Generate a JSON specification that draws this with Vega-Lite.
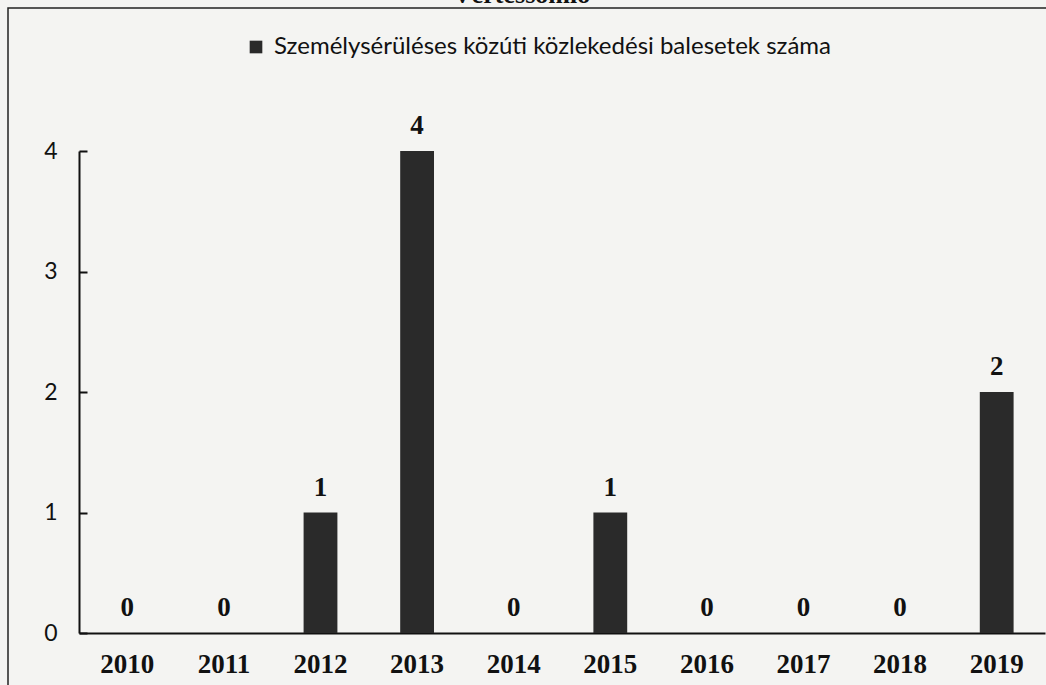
{
  "$schema": "https://vega.github.io/schema/vega-lite/v6.json",
  "width": 1048,
  "height": 697,
  "autosize": {"type": "none"},
  "padding": {"left": 8, "top": 8, "right": -10, "bottom": -20},
  "background": "#f4f4f2",
  "title": {"text": "Vértessomló", "font": "Liberation Serif", "fontSize": 26, "fontWeight": "bold", "color": "#111", "offset": 0, "dy": 21, "anchor": "start", "dx": 445, "baseline": "alphabetic"},
  "config": {"view": {"stroke": "#222", "strokeWidth": 1.5}},
  "data": {"values": [
    {"year": "2010", "value": 0, "series": "Személysérüléses közúti közlekedési balesetek száma"},
    {"year": "2011", "value": 0, "series": "Személysérüléses közúti közlekedési balesetek száma"},
    {"year": "2012", "value": 1, "series": "Személysérüléses közúti közlekedési balesetek száma"},
    {"year": "2013", "value": 4, "series": "Személysérüléses közúti közlekedési balesetek száma"},
    {"year": "2014", "value": 0, "series": "Személysérüléses közúti közlekedési balesetek száma"},
    {"year": "2015", "value": 1, "series": "Személysérüléses közúti közlekedési balesetek száma"},
    {"year": "2016", "value": 0, "series": "Személysérüléses közúti közlekedési balesetek száma"},
    {"year": "2017", "value": 0, "series": "Személysérüléses közúti közlekedési balesetek száma"},
    {"year": "2018", "value": 0, "series": "Személysérüléses közúti közlekedési balesetek száma"},
    {"year": "2019", "value": 2, "series": "Személysérüléses közúti közlekedési balesetek száma"}
  ]},
  "encoding": {
    "x": {
      "field": "year", "type": "ordinal",
      "scale": {"range": [71, 1037], "paddingInner": 0.65, "paddingOuter": 0.325},
      "axis": {"title": null, "offset": -72, "ticks": false, "domainColor": "#111", "domainWidth": 2, "labelAngle": 0, "labelFont": "Liberation Serif", "labelFontWeight": "bold", "labelFontSize": 27, "labelColor": "#111", "labelPadding": 18}
    },
    "y": {
      "field": "value", "type": "quantitative",
      "scale": {"domain": [0, 4], "range": [625, 143], "nice": false},
      "axis": {"title": null, "values": [0, 1, 2, 3, 4], "offset": -71, "grid": false, "domainColor": "#111", "domainWidth": 2, "tickColor": "#111", "tickWidth": 2, "tickSize": -8, "labelFont": "Lato", "labelFontSize": 23, "labelColor": "#111", "labelPadding": 30}
    }
  },
  "layer": [
    {
      "mark": {"type": "bar"},
      "encoding": {
        "color": {
          "field": "series", "type": "nominal",
          "scale": {"range": ["#2a2a2a"]},
          "legend": {"title": null, "orient": "none", "legendX": 236, "legendY": 27, "symbolType": "square", "symbolSize": 160, "symbolStrokeWidth": 0, "labelFont": "Lato", "labelFontSize": 24, "labelColor": "#111", "labelLimit": 900, "labelOffset": 6}
        }
      }
    },
    {
      "mark": {"type": "text", "dy": -17, "baseline": "alphabetic", "font": "Liberation Serif", "fontSize": 27, "fontWeight": "bold", "color": "#111"},
      "encoding": {"text": {"field": "value", "type": "quantitative"}}
    }
  ]
}
